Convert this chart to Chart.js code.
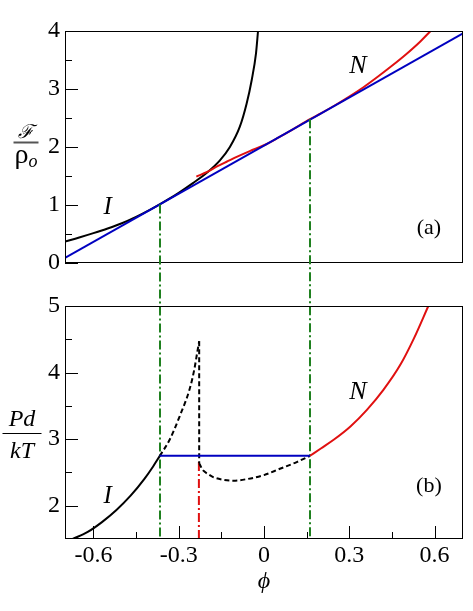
<!DOCTYPE html>
<html>
<head>
<meta charset="utf-8">
<script src="https://cdn.jsdelivr.net/npm/chart.js@4.4.1/dist/chart.umd.min.js"></script>
<style>
  html, body { margin: 0; padding: 0; background: #fff; }
  #wrap { position: relative; width: 473px; height: 611px; }
  #wrap canvas { position: absolute; left: 0; top: 0; }
</style>
</head>
<body>
<div id="wrap">
  <canvas id="panel-a" width="473" height="611"></canvas>
  <canvas id="panel-b" width="473" height="611"></canvas>
</div>
<script>
// ─── Data ─────────────────────────────────────────────────────────────────────

// shared phi axis
const phiTicks = [-0.6, -0.3, 0, 0.3, 0.6];
const phiMinor = [-0.45, -0.15, 0.15, 0.45];

// (a) free energy over density
const fTicks = [0, 1, 2, 3, 4];
const fMinor = [0.5, 1.5, 2.5, 3.5];
const tangentPhi = [-0.7, 0.7];
const tangentF = [0.09, 3.96];
const isoPhiA = [-0.7, -0.65, -0.6, -0.55, -0.5, -0.45, -0.4, -0.367, -0.33, -0.3, -0.25, -0.2, -0.155, -0.12, -0.085, -0.061, -0.043, -0.028, -0.021];
const isoF    = [0.37, 0.44, 0.515, 0.595, 0.685, 0.795, 0.92, 1.01, 1.117, 1.21, 1.378, 1.56, 1.77, 2.0, 2.35, 2.75, 3.16, 3.62, 4.0];
const nemPhiA = [-0.238, -0.2, -0.167, -0.13, -0.096, -0.05, 0, 0.05, 0.1, 0.162, 0.2, 0.25, 0.3, 0.35, 0.4, 0.45, 0.5, 0.55, 0.586];
const nemF    = [1.49, 1.57, 1.66, 1.75, 1.83, 1.93, 2.03, 2.16, 2.3, 2.48, 2.58, 2.72, 2.87, 3.03, 3.21, 3.40, 3.6, 3.82, 4.0];

// (b) pressure
const pTicks = [2, 3, 4, 5];
const pMinor = [2.5, 3.5, 4.5];
const isoPhiB  = [-0.673, -0.62, -0.57, -0.52, -0.47, -0.42, -0.39, -0.367];
const isoP     = [1.5, 1.606, 1.754, 1.932, 2.147, 2.408, 2.59, 2.745];
const risePhi  = [-0.367, -0.332, -0.297, -0.261, -0.245, -0.235, -0.228];
const riseP    = [2.745, 2.99, 3.34, 3.76, 4.05, 4.3, 4.47];
const dropPhi  = [-0.228, -0.228];
const dropP    = [4.47, 2.64];
const loopPhi  = [-0.228, -0.22, -0.214, -0.195, -0.179, -0.144, -0.108, -0.06, 0, 0.056, 0.115, 0.162];
const loopP    = [2.64, 2.57, 2.53, 2.47, 2.43, 2.39, 2.375, 2.4, 2.46, 2.555, 2.655, 2.75];
const nemPhiB  = [0.162, 0.2, 0.245, 0.304, 0.362, 0.42, 0.48, 0.527, 0.578];
const nemP     = [2.75, 2.86, 2.99, 3.19, 3.44, 3.74, 4.12, 4.51, 5.0];
const coexPhi  = [-0.367, 0.162];
const coexF    = [1.01, 2.48];
const coexP    = [2.75, 2.75];
const spinPhi  = [-0.229, -0.229];
const spinP    = [1.5, 2.7];

// ─── Styling ──────────────────────────────────────────────────────────────────

const SERIF = '"Liberation Serif"';
const BLUE = "#0000c0";
const RED = "#e01010";
const GREEN = "#1f801f";
const DASH = [5, 3];
const DASH_DOT = [9, 3, 2, 3];

Chart.defaults.font.family = SERIF;
Chart.defaults.color = "#000";

function pts(xs, ys) {
  return xs.map((x, i) => ({ x, y: ys[i] }));
}

function curve(xs, ys, color, extra = {}) {
  return Object.assign({
    data: pts(xs, ys),
    showLine: true,
    borderColor: color,
    borderWidth: 2,
    pointRadius: 0,
    fill: false,
    cubicInterpolationMode: "monotone",
  }, extra);
}

function straight(xs, ys, color, extra = {}) {
  return curve(xs, ys, color, Object.assign({ cubicInterpolationMode: "default", tension: 0 }, extra));
}

// frame box + inward tick marks
function framePlugin({ yMajor, yMinor, xMajor = [], xMinor = [] }) {
  return {
    id: "frame",
    afterDraw(chart) {
      const { ctx, chartArea: a, scales: { x, y } } = chart;
      ctx.save();
      ctx.strokeStyle = "#000";
      ctx.lineWidth = 1;
      ctx.strokeRect(a.left + 0.5, a.top + 0.5, a.right - a.left - 1, a.bottom - a.top - 1);
      ctx.beginPath();
      const yTick = (v, len) => {
        const py = Math.round(y.getPixelForValue(v)) + 0.5;
        ctx.moveTo(a.left, py);
        ctx.lineTo(a.left + len, py);
      };
      const xTick = (v, len) => {
        const px = Math.round(x.getPixelForValue(v)) + 0.5;
        ctx.moveTo(px, a.bottom);
        ctx.lineTo(px, a.bottom - len);
      };
      yMajor.forEach(v => yTick(v, 13));
      yMinor.forEach(v => yTick(v, 7));
      xMajor.forEach(v => xTick(v, 13));
      xMinor.forEach(v => xTick(v, 7));
      ctx.stroke();
      ctx.restore();
    },
  };
}

// in-plot labels and the fraction-style y title
function notesPlugin(notes, frac) {
  const drawParts = (ctx, parts, cx, base) => {
    let w = 0;
    parts.forEach(p => { ctx.font = p.font; p.w = ctx.measureText(p.t).width; w += p.w; });
    let px = cx - w / 2;
    parts.forEach(p => {
      ctx.font = p.font;
      ctx.fillText(p.t, px, base + (p.dy || 0));
      px += p.w;
    });
  };
  return {
    id: "notes",
    afterDraw(chart) {
      const { ctx, chartArea: a, scales: { x, y } } = chart;
      ctx.save();
      ctx.fillStyle = "#000";
      ctx.textAlign = "center";
      ctx.textBaseline = "middle";
      notes.forEach(n => {
        ctx.font = n.font;
        ctx.fillText(n.text, x.getPixelForValue(n.x), y.getPixelForValue(n.y));
      });

      const cx = a.left - frac.dx;
      const by = Math.round(y.getPixelForValue(frac.at)) + 0.5;
      ctx.textAlign = "left";
      ctx.textBaseline = "alphabetic";
      drawParts(ctx, frac.num, cx, by - frac.numGap);
      drawParts(ctx, frac.den, cx, by + frac.denGap);
      ctx.strokeStyle = frac.barColor;
      ctx.lineWidth = frac.barWidth;
      ctx.beginPath();
      ctx.moveTo(cx - frac.half, by);
      ctx.lineTo(cx + frac.half, by);
      ctx.stroke();
      ctx.restore();
    },
  };
}

function yScale(min, max, ticks) {
  return {
    min, max,
    afterFit: s => { s.width = 65; },
    afterBuildTicks: s => { s.ticks = ticks.map(v => ({ value: v })); },
    grid: { display: false, drawTicks: false },
    border: { display: false },
    ticks: { padding: 5, font: { family: SERIF, size: 24 }, color: "#000" },
  };
}

const base = {
  responsive: false,
  animation: false,
  devicePixelRatio: 1,
  events: [],
};

// ─── Panel (a) ────────────────────────────────────────────────────────────────

const chartA = new Chart(document.getElementById("panel-a"), {
  type: "scatter",
  data: {
    datasets: [
      straight(tangentPhi, tangentF, BLUE),
      curve(nemPhiA, nemF, RED),
      curve(isoPhiA, isoF, "#000"),
    ],
  },
  options: Object.assign({}, base, {
    layout: { padding: { top: 31, bottom: 348, left: 0, right: 10 } },
    plugins: { legend: { display: false }, tooltip: { enabled: false } },
    scales: {
      x: { type: "linear", min: -0.7, max: 0.7, display: false },
      y: yScale(0, 4, fTicks),
    },
  }),
  plugins: [
    framePlugin({ yMajor: fTicks, yMinor: fMinor }),
    notesPlugin([
      { text: "I", x: -0.55, y: 0.95, font: `italic 25px ${SERIF}` },
      { text: "N", x: 0.33, y: 3.4, font: `italic 26px ${SERIF}` },
      { text: "(a)", x: 0.58, y: 0.6, font: `22px ${SERIF}` },
    ], {
      dx: 39, at: 2.09, half: 12.5, numGap: 5, denGap: 20, barColor: "#555", barWidth: 2,
      num: [{ t: "ℱ", font: 'italic 19px "DejaVu Serif"' }],
      den: [{ t: "ρ", font: `28px ${SERIF}` }, { t: "o", font: `italic 18px ${SERIF}`, dy: 4 }],
    }),
  ],
});

// ─── Panel (b) ────────────────────────────────────────────────────────────────

// green coexistence guides run from the tangent points in (a) down through (b)
const guidesPlugin = {
  id: "guides",
  beforeDatasetsDraw(chart) {
    const { ctx, chartArea: a, scales: { x } } = chart;
    const yTop = chartA.scales.y;
    ctx.save();
    ctx.strokeStyle = GREEN;
    ctx.lineWidth = 2;
    ctx.setLineDash(DASH_DOT);
    coexPhi.forEach((phi, i) => {
      const px = Math.round(x.getPixelForValue(phi));
      ctx.beginPath();
      ctx.moveTo(px, yTop.getPixelForValue(coexF[i]));
      ctx.lineTo(px, a.bottom);
      ctx.stroke();
    });
    ctx.restore();
  },
};

new Chart(document.getElementById("panel-b"), {
  type: "scatter",
  data: {
    datasets: [
      straight(coexPhi, coexP, BLUE),
      curve(nemPhiB, nemP, RED),
      curve(isoPhiB, isoP, "#000"),
      curve(risePhi, riseP, "#000", { borderDash: DASH }),
      straight(dropPhi, dropP, "#000", { borderDash: DASH }),
      curve(loopPhi, loopP, "#000", { borderDash: DASH }),
      straight(spinPhi, spinP, RED, { borderDash: DASH_DOT }),
    ],
  },
  options: Object.assign({}, base, {
    layout: { padding: { top: 306, bottom: 0, left: 0, right: 10 } },
    plugins: { legend: { display: false }, tooltip: { enabled: false } },
    scales: {
      x: {
        type: "linear",
        min: -0.7, max: 0.7,
        afterFit: s => { s.height = 72; },
        afterBuildTicks: s => { s.ticks = phiTicks.map(v => ({ value: v })); },
        grid: { display: false, drawTicks: false },
        border: { display: false },
        ticks: {
          padding: 2, autoSkip: false, maxRotation: 0,
          font: { family: SERIF, size: 24 }, color: "#000",
          callback: v => String(v),
        },
        title: {
          display: true, text: "ϕ", color: "#000",
          font: { family: SERIF, size: 24, style: "italic" },
          padding: { top: 0, bottom: 15 },
        },
      },
      y: yScale(1.5, 5, pTicks),
    },
  }),
  plugins: [
    guidesPlugin,
    framePlugin({ yMajor: pTicks, yMinor: pMinor, xMajor: phiTicks, xMinor: phiMinor }),
    notesPlugin([
      { text: "I", x: -0.55, y: 2.14, font: `italic 25px ${SERIF}` },
      { text: "N", x: 0.33, y: 3.7, font: `italic 26px ${SERIF}` },
      { text: "(b)", x: 0.58, y: 2.3, font: `22px ${SERIF}` },
    ], {
      dx: 43, at: 3.09, half: 19.5, numGap: 8, denGap: 24, barColor: "#000", barWidth: 1,
      num: [{ t: "Pd", font: `italic 24px ${SERIF}` }],
      den: [{ t: "kT", font: `italic 24px ${SERIF}` }],
    }),
  ],
});
</script>
</body>
</html>
